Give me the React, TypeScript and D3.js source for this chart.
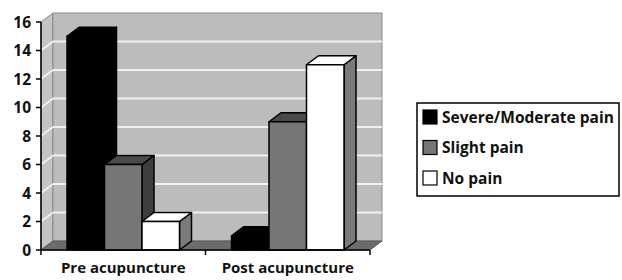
import React, { useEffect, useRef } from 'react';
import * as d3 from 'd3';

const categories = ['Pre acupuncture', 'Post acupuncture'];
const seriesNames = ['Severe/Moderate pain', 'Slight pain', 'No pain'];
const severe = [15, 1];
const slight = [6, 9];
const noPain = [2, 13];
const yTicks = [0, 2, 4, 6, 8, 10, 12, 14, 16];

// front, top, side colours per series
const colors = [
  { front: '#000000', top: '#000000', side: '#000000' },
  { front: '#767676', top: '#4a4a4a', side: '#3e3e3e' },
  { front: '#ffffff', top: '#ffffff', side: '#7a7a7a' },
];

const App = () => {
  const ref = useRef<SVGSVGElement>(null);

  useEffect(() => {
    const svg = d3.select(ref.current);
    svg.selectAll('*').remove();

    const dx = 12;
    const dy = -9;
    const left = 41;
    const right = 370;
    const font = "'Open Sans', 'Liberation Sans', sans-serif";

    const y = d3.scaleLinear().domain([0, 16]).range([250, 22]);
    const x = d3.scaleBand().domain(categories).range([left, right]);
    const inner = d3.scaleBand().domain(seriesNames).range([0, 112.5]);
    const values = [severe, slight, noPain];

    const y0 = y(0);
    const yTop = y(16);

    // left wall
    svg.append('polygon')
      .attr('points', [[left, y0], [left + dx, y0 + dy], [left + dx, yTop + dy], [left, yTop]].join(' '))
      .attr('fill', '#c4c4c4').attr('stroke', '#8a8a8a');
    // back wall
    svg.append('rect')
      .attr('x', left + dx).attr('y', yTop + dy)
      .attr('width', right - left).attr('height', y0 - yTop)
      .attr('fill', '#bcbcbc').attr('stroke', '#8a8a8a');
    // gridlines
    yTicks.filter((t) => t > 0 && t < 16).forEach((t) => {
      svg.append('line')
        .attr('x1', left + dx).attr('x2', right + dx)
        .attr('y1', y(t) + dy).attr('y2', y(t) + dy)
        .attr('stroke', '#efefef').attr('stroke-width', 2);
      svg.append('line')
        .attr('x1', left).attr('x2', left + dx)
        .attr('y1', y(t)).attr('y2', y(t) + dy)
        .attr('stroke', '#efefef').attr('stroke-width', 2);
    });
    // floor
    svg.append('polygon')
      .attr('points', [[left, y0], [right, y0], [right + dx, y0 + dy], [left + dx, y0 + dy]].join(' '))
      .attr('fill', '#6c6c6c').attr('stroke', '#5a5a5a');

    // bars
    categories.forEach((cat, ci) => {
      const start = (x(cat) as number) + (x.bandwidth() - 112.5) / 2;
      seriesNames.forEach((s, si) => {
        const v = values[si][ci];
        const x0 = start + (inner(s) as number);
        const x1 = x0 + inner.bandwidth();
        const yt = y(v);
        const c = colors[si];
        const g = svg.append('g').attr('stroke', '#000').attr('stroke-width', 1.5).attr('stroke-linejoin', 'round');
        g.append('polygon')
          .attr('points', [[x1, yt], [x1 + dx, yt + dy], [x1 + dx, y0 + dy], [x1, y0]].join(' '))
          .attr('fill', c.side);
        g.append('polygon')
          .attr('points', [[x0, yt], [x0 + dx, yt + dy], [x1 + dx, yt + dy], [x1, yt]].join(' '))
          .attr('fill', c.top);
        g.append('rect')
          .attr('x', x0).attr('y', yt).attr('width', x1 - x0).attr('height', y0 - yt)
          .attr('fill', c.front);
      });
    });

    // y axis
    svg.append('line').attr('x1', left).attr('x2', left).attr('y1', yTop).attr('y2', y0)
      .attr('stroke', '#000').attr('stroke-width', 1.5);
    yTicks.forEach((t) => {
      svg.append('line').attr('x1', left - 5).attr('x2', left).attr('y1', y(t)).attr('y2', y(t))
        .attr('stroke', '#000').attr('stroke-width', 1.5);
      svg.append('text').attr('x', 31).attr('y', y(t)).attr('dy', '0.36em')
        .attr('text-anchor', 'end').attr('font-family', font).attr('font-weight', 'bold')
        .attr('font-size', 15.5).attr('fill', '#111').text(t);
    });

    // x axis
    svg.append('line').attr('x1', left).attr('x2', right).attr('y1', y0).attr('y2', y0)
      .attr('stroke', '#000').attr('stroke-width', 1.5);
    [left, ...categories.map((c) => (x(c) as number) + x.bandwidth())].forEach((px) => {
      svg.append('line').attr('x1', px).attr('x2', px).attr('y1', y0).attr('y2', y0 + 5)
        .attr('stroke', '#000').attr('stroke-width', 1.5);
    });
    categories.forEach((c) => {
      svg.append('text').attr('x', (x(c) as number) + x.bandwidth() / 2).attr('y', 273)
        .attr('text-anchor', 'middle').attr('font-family', font).attr('font-weight', 'bold')
        .attr('font-size', 15).attr('fill', '#111').text(c);
    });

    // legend
    const lg = svg.append('g');
    lg.append('rect').attr('x', 417).attr('y', 103).attr('width', 202).attr('height', 93)
      .attr('fill', '#fff').attr('stroke', '#000').attr('stroke-width', 1.5);
    const ly = d3.scalePoint().domain(seriesNames).range([117, 178]);
    seriesNames.forEach((s, i) => {
      const cy = ly(s) as number;
      lg.append('rect').attr('x', 423).attr('y', cy - 7).attr('width', 14).attr('height', 14)
        .attr('fill', colors[i].front).attr('stroke', '#000').attr('stroke-width', 1.2);
      lg.append('text').attr('x', 442).attr('y', cy).attr('dy', '0.36em')
        .attr('font-family', font).attr('font-weight', 'bold').attr('font-size', 15.5)
        .attr('fill', '#111').text(s);
    });
  }, []);

  return (
    <svg ref={ref} width={622} height={280}
      style={{ position: 'absolute', left: 0, top: 0, background: '#fff' }} />
  );
};

export default App;
